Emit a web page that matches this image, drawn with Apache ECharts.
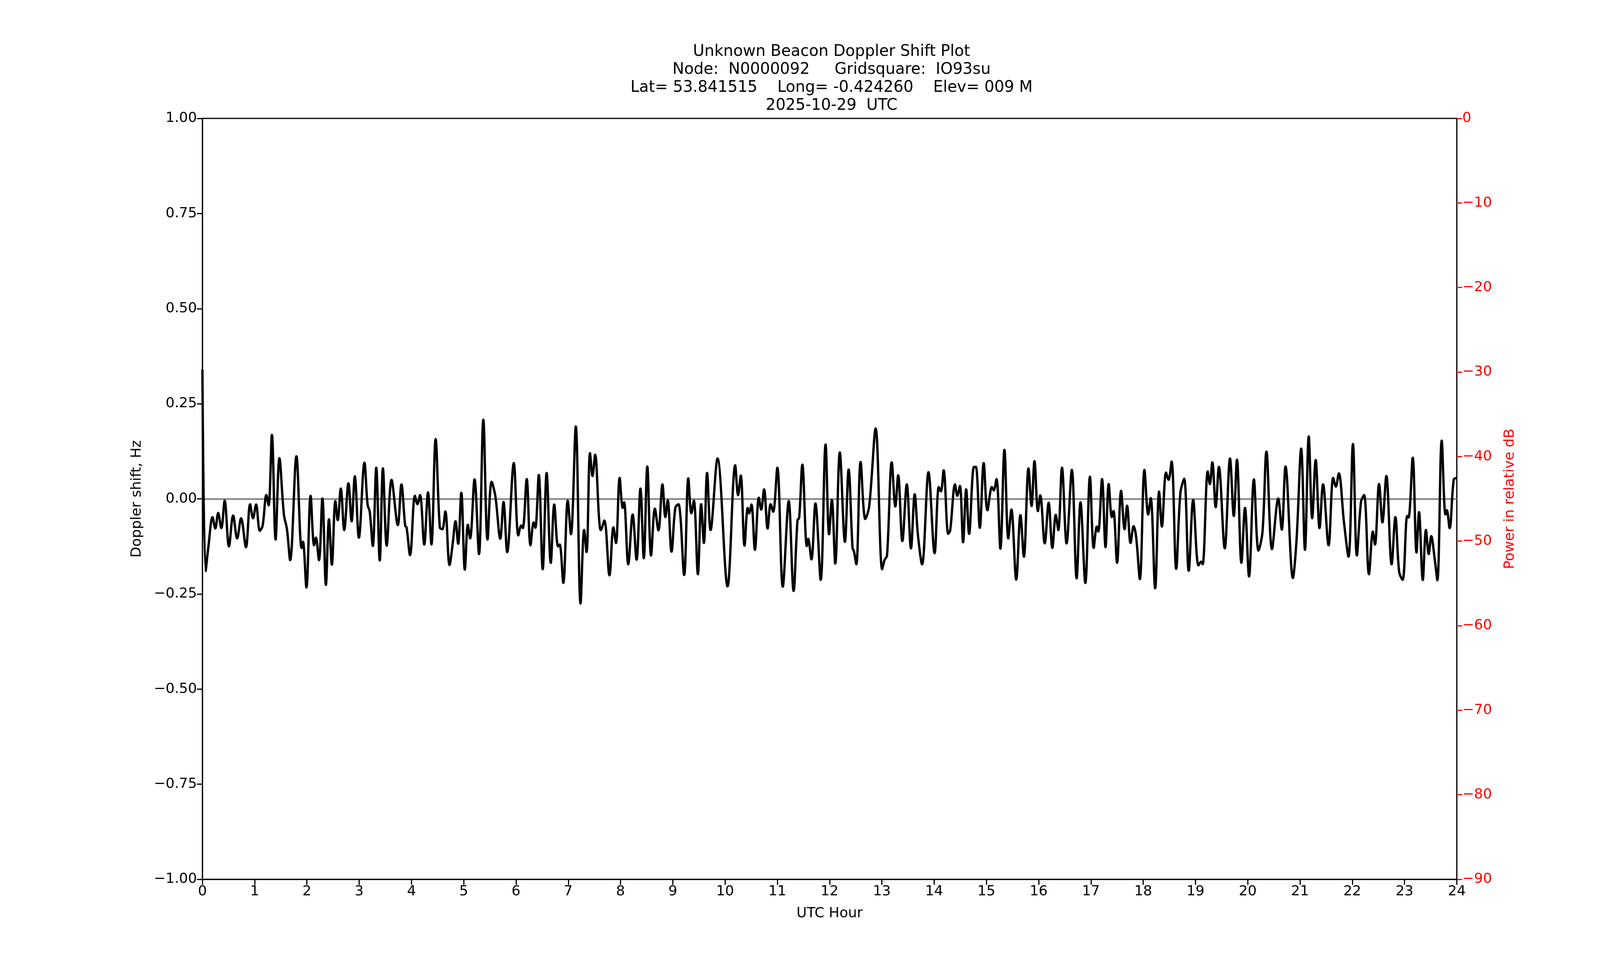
<!DOCTYPE html>
<html>
<head>
<meta charset="utf-8">
<script src="https://cdn.jsdelivr.net/npm/echarts@6/dist/echarts.min.js"></script>
<style>
  html, body { margin: 0; padding: 0; background: #fff; overflow: hidden; }
  #chart { width: 100vw; height: 100vh; }
</style>
</head>
<body>
<div id="chart"></div>
<script>
// ---- data (UTC hour, Doppler shift Hz)
var hours = [
  0.000, 0.061, 0.114, 0.194, 0.247, 0.301, 0.362, 0.426, 0.508, 0.588, 0.665, 0.740, 0.833, 0.913, 0.969,
  1.027, 1.099, 1.152, 1.224, 1.267, 1.330, 1.400, 1.474, 1.559, 1.618, 1.679, 1.799, 1.897, 1.924, 1.990,
  2.070, 2.137, 2.171, 2.230, 2.296, 2.363, 2.421, 2.477, 2.544, 2.589, 2.648, 2.714, 2.794, 2.855, 2.916,
  2.994, 3.100, 3.161, 3.201, 3.260, 3.326, 3.393, 3.454, 3.526, 3.619, 3.739, 3.808, 3.880, 3.906, 3.973,
  4.066, 4.114, 4.164, 4.244, 4.316, 4.382, 4.462, 4.542, 4.590, 4.648, 4.728, 4.787, 4.843, 4.893, 4.954,
  5.021, 5.079, 5.122, 5.207, 5.292, 5.375, 5.455, 5.534, 5.606, 5.699, 5.761, 5.832, 5.958, 6.045, 6.099,
  6.130, 6.205, 6.277, 6.338, 6.370, 6.436, 6.511, 6.586, 6.665, 6.732, 6.804, 6.836, 6.905, 6.990, 7.051,
  7.144, 7.235, 7.304, 7.350, 7.416, 7.464, 7.514, 7.589, 7.623, 7.690, 7.788, 7.863, 7.913, 7.983, 8.041,
  8.068, 8.148, 8.232, 8.307, 8.381, 8.445, 8.512, 8.584, 8.658, 8.725, 8.802, 8.858, 8.903, 8.975, 9.049,
  9.108, 9.217, 9.297, 9.355, 9.403, 9.480, 9.542, 9.595, 9.656, 9.723, 9.856, 10.047, 10.194, 10.249, 10.300,
  10.372, 10.433, 10.462, 10.505, 10.571, 10.646, 10.691, 10.747, 10.814, 10.872, 10.920, 11.000, 11.104, 11.218, 11.311,
  11.386, 11.418, 11.479, 11.564, 11.590, 11.652, 11.729, 11.830, 11.923, 11.990, 12.043, 12.109, 12.195, 12.293, 12.364,
  12.439, 12.466, 12.511, 12.593, 12.684, 12.758, 12.881, 13.006, 13.051, 13.099, 13.189, 13.258, 13.312, 13.392, 13.477,
  13.557, 13.628, 13.690, 13.769, 13.892, 14.009, 14.089, 14.129, 14.182, 14.270, 14.307, 14.400, 14.443, 14.493, 14.554,
  14.613, 14.669, 14.762, 14.799, 14.874, 14.948, 15.020, 15.105, 15.140, 15.193, 15.268, 15.345, 15.419, 15.478, 15.571,
  15.651, 15.717, 15.805, 15.864, 15.920, 15.986, 16.031, 16.116, 16.191, 16.262, 16.327, 16.375, 16.446, 16.534, 16.635,
  16.726, 16.800, 16.893, 16.981, 17.053, 17.112, 17.141, 17.213, 17.279, 17.340, 17.399, 17.431, 17.500, 17.577, 17.644,
  17.692, 17.758, 17.817, 17.865, 17.936, 18.024, 18.096, 18.144, 18.229, 18.304, 18.357, 18.437, 18.485, 18.543, 18.631,
  18.711, 18.783, 18.871, 18.956, 19.057, 19.107, 19.137, 19.235, 19.275, 19.323, 19.387, 19.448, 19.560, 19.661, 19.733,
  19.794, 19.879, 19.948, 20.025, 20.118, 20.206, 20.283, 20.358, 20.464, 20.584, 20.651, 20.723, 20.864, 20.935, 21.023,
  21.095, 21.167, 21.233, 21.300, 21.374, 21.441, 21.547, 21.635, 21.686, 21.742, 21.840, 21.928, 22.013, 22.088, 22.167,
  22.226, 22.319, 22.394, 22.434, 22.513, 22.577, 22.652, 22.753, 22.825, 22.897, 22.963, 23.051, 23.077, 23.157, 23.229,
  23.277, 23.349, 23.410, 23.463, 23.511, 23.578, 23.628, 23.711, 23.783, 23.809, 23.863, 23.942, 24.000
];
var doppler = [
  0.340, -0.190, -0.127, -0.048, -0.078, -0.037, -0.077, -0.005, -0.125, -0.044, -0.104, -0.051, -0.127, -0.014, -0.051,
  -0.015, -0.084, -0.071, 0.010, -0.017, 0.168, -0.107, 0.107, -0.041, -0.080, -0.161, 0.112, -0.129, -0.113, -0.233,
  0.008, -0.122, -0.102, -0.161, 0.001, -0.226, -0.054, -0.173, -0.006, -0.056, 0.027, -0.082, 0.041, -0.059, 0.059,
  -0.102, 0.095, -0.016, -0.033, -0.124, 0.082, -0.162, 0.080, -0.123, 0.050, -0.069, 0.038, -0.071, -0.075, -0.148,
  0.008, -0.014, 0.010, -0.120, 0.017, -0.120, 0.157, -0.075, -0.080, -0.033, -0.174, -0.120, -0.059, -0.118, 0.016,
  -0.186, -0.068, -0.104, 0.051, -0.145, 0.208, -0.107, 0.045, 0.006, -0.105, -0.008, -0.140, 0.094, -0.096, -0.070,
  -0.077, 0.052, -0.122, -0.062, -0.076, 0.063, -0.185, 0.068, -0.168, -0.015, -0.125, -0.120, -0.221, -0.005, -0.093,
  0.190, -0.275, -0.082, -0.140, 0.120, 0.060, 0.116, -0.051, -0.082, -0.057, -0.201, -0.075, -0.116, 0.055, -0.024,
  -0.009, -0.172, -0.041, -0.160, 0.027, -0.156, 0.085, -0.149, -0.026, -0.083, 0.038, -0.048, -0.004, -0.139, -0.023,
  -0.014, -0.200, 0.054, -0.038, -0.005, -0.198, -0.014, -0.116, 0.068, -0.082, 0.106, -0.230, 0.088, 0.010, 0.061,
  -0.123, -0.024, -0.038, -0.015, -0.134, 0.003, -0.028, 0.025, -0.078, -0.014, -0.034, 0.082, -0.231, -0.006, -0.242,
  -0.056, -0.050, 0.090, -0.124, -0.105, -0.159, -0.012, -0.213, 0.143, -0.093, -0.003, -0.170, 0.122, -0.113, 0.077,
  -0.129, -0.138, -0.172, 0.097, -0.053, -0.019, 0.185, -0.185, -0.161, -0.149, 0.096, -0.020, 0.062, -0.111, 0.038,
  -0.130, 0.012, -0.095, -0.172, 0.070, -0.143, 0.031, 0.020, 0.075, -0.092, -0.083, 0.038, 0.008, 0.034, -0.114,
  0.025, -0.092, 0.084, 0.084, -0.076, 0.094, -0.030, 0.031, 0.022, 0.052, -0.131, 0.129, -0.104, -0.028, -0.212,
  -0.043, -0.152, 0.080, -0.019, 0.099, -0.032, 0.009, -0.117, -0.010, -0.129, -0.042, -0.082, 0.082, -0.117, 0.076,
  -0.209, -0.009, -0.221, 0.058, -0.129, -0.073, -0.086, 0.052, -0.127, 0.039, -0.048, -0.032, -0.168, 0.021, -0.080,
  -0.018, -0.116, -0.072, -0.100, -0.211, 0.076, -0.041, 0.002, -0.235, 0.019, -0.073, 0.069, 0.050, 0.098, -0.184,
  0.015, 0.053, -0.189, -0.003, -0.175, -0.165, -0.172, 0.072, 0.039, 0.096, -0.022, 0.084, -0.130, 0.106, -0.045,
  0.103, -0.168, -0.024, -0.204, 0.051, -0.136, -0.086, 0.124, -0.132, 0.001, -0.081, 0.085, -0.208, -0.105, 0.132,
  -0.134, 0.164, -0.051, 0.102, -0.077, 0.038, -0.122, 0.055, 0.032, 0.067, -0.060, -0.152, 0.144, -0.149, -0.008,
  0.010, -0.198, -0.086, -0.120, 0.039, -0.062, 0.060, -0.172, -0.048, -0.192, -0.213, -0.045, -0.049, 0.108, -0.141,
  -0.035, -0.213, -0.082, -0.145, -0.098, -0.159, -0.214, 0.153, -0.041, -0.030, -0.077, 0.051, 0.055
];
var titleLines = [
  'Unknown Beacon Doppler Shift Plot',
  'Node:  N0000092     Gridsquare:  IO93su',
  'Lat= 53.841515    Long= -0.424260    Elev= 009 M',
  '2025-10-29  UTC'
];

var points = hours.map(function (h, i) { return [h, doppler[i]]; });
var font = 'DejaVu Sans';
var minus = function (v) { return String(v).replace('-', '\u2212'); };

var chart = echarts.init(document.getElementById('chart'));
chart.setOption({
    animation: false,
    backgroundColor: '#fff',
    textStyle: {fontFamily: font},
    title: {
        text: titleLines.join('\n'),
        left: '51.85%',
        textAlign: 'center',
        top: '4.2%',
        textStyle: {fontSize: 40, fontWeight: 'normal', color: '#000', lineHeight: 46, fontFamily: font}
    },
    grid: {
        left: '12.65%', right: '8.95%', top: '12.12%', bottom: '10%',
        show: true, borderColor: '#000', borderWidth: 3, backgroundColor: 'transparent'
    },
    xAxis: {
        type: 'value', min: 0, max: 24, interval: 1,
        name: 'UTC Hour', nameLocation: 'middle', nameGap: 70,
        nameTextStyle: {fontSize: 36, color: '#000'},
        axisLine: {onZero: false, lineStyle: {color: '#000', width: 3}},
        axisTick: {length: 14, lineStyle: {color: '#000', width: 3}},
        axisLabel: {fontSize: 36, color: '#000', margin: 14},
        splitLine: {show: false}
    },
    yAxis: [
        {
            type: 'value', min: -1, max: 1, interval: 0.25,
            name: 'Doppler shift, Hz', nameLocation: 'middle', nameGap: 150, nameRotate: 90,
            nameTextStyle: {fontSize: 36, color: '#000'},
            axisLine: {show: true, onZero: false, lineStyle: {color: '#000', width: 3}},
            axisTick: {show: true, length: 14, lineStyle: {color: '#000', width: 3}},
            axisLabel: {fontSize: 36, color: '#000', margin: 14, formatter: function (v) { return minus(v.toFixed(2)); }},
            splitLine: {show: false}
        },
        {
            type: 'value', min: -90, max: 0, interval: 10, position: 'right',
            name: 'Power in relative dB', nameLocation: 'middle', nameGap: 118, nameRotate: 90,
            nameTextStyle: {fontSize: 36, color: '#ff0000'},
            axisLine: {show: true, onZero: false, lineStyle: {color: '#000', width: 3}},
            axisTick: {show: true, length: 14, lineStyle: {color: '#ff0000', width: 3}},
            axisLabel: {fontSize: 36, color: '#ff0000', margin: 14, formatter: function (v) { return minus(v); }},
            splitLine: {show: false}
        }
    ],
    series: [
        {
            type: 'line',
            data: points,
            yAxisIndex: 0,
            showSymbol: false,
            smooth: 0.35,
            lineStyle: {color: '#000', width: 6},
            z: 3,
            markLine: {
                silent: true, symbol: 'none', label: {show: false},
                lineStyle: {color: '#808080', type: 'solid', width: 4},
                data: [{yAxis: 0}],
                z: 2
            }
        }
    ]
});
window.addEventListener('resize', function () { chart.resize(); });
</script>
</body>
</html>
